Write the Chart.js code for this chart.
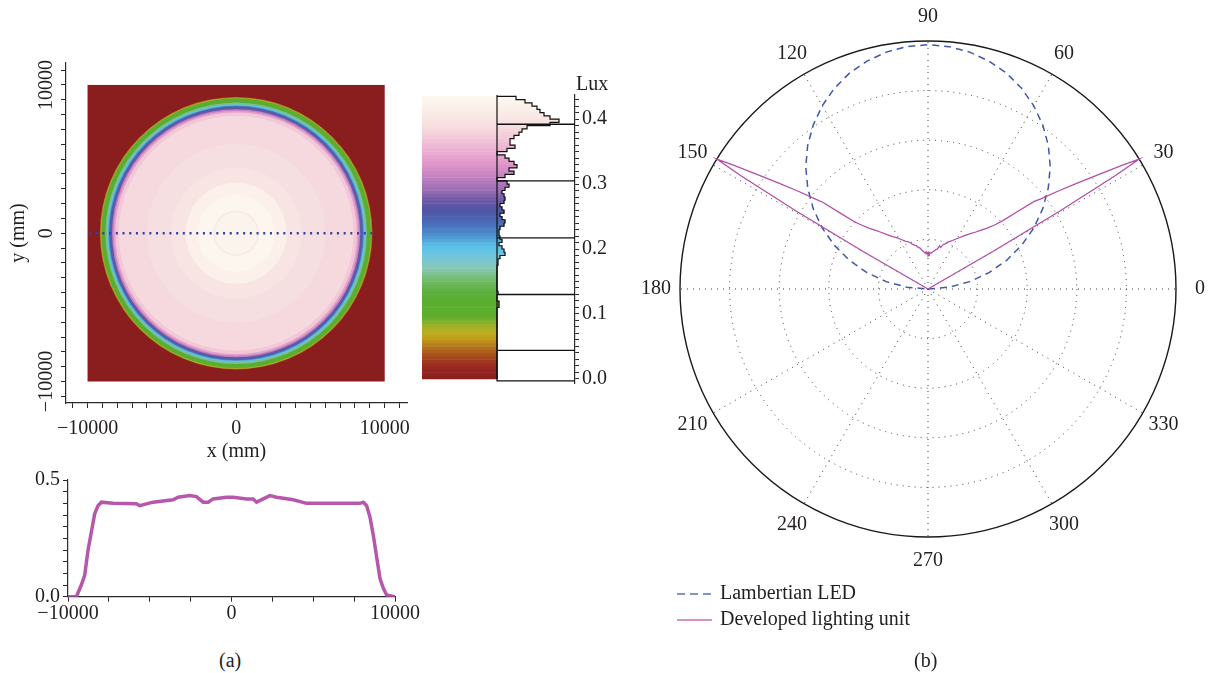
<!DOCTYPE html>
<html>
<head>
<meta charset="utf-8">
<title>Illuminance map and intensity pattern</title>
<script src="https://cdn.jsdelivr.net/npm/chart.js@4.4.1/dist/chart.umd.min.js"></script>
<style>
  html, body { margin: 0; padding: 0; background: #fff; }
  body { position: relative; width: 1214px; height: 673px; overflow: hidden;
         font-family: "Liberation Serif", "DejaVu Serif", serif; color: #231f20; }
  canvas { position: absolute; }
  .txt { position: absolute; font-size: 20px; line-height: 1; white-space: nowrap; }
</style>
</head>
<body>
<canvas id="heatmap" width="420" height="420" style="left:0;top:50px"></canvas>
<canvas id="colorbar" width="200" height="340" style="left:415px;top:60px"></canvas>
<canvas id="profile" width="430" height="165" style="left:0;top:465px"></canvas>
<canvas id="polar" width="574" height="673" style="left:640px;top:0"></canvas>
<div class="txt" style="left:576px;top:73px">Lux</div>
<div class="txt" style="left:219px;top:650px">(a)</div>
<div class="txt" style="left:914px;top:650px">(b)</div>
<script>
// ---------- data ----------
// (a) illuminance map: radial rings (outer radius in mm, lux inside that radius)
const ringRadius = [9170, 9120, 9080, 8930, 8800, 8680, 8600, 8540, 8450, 8350, 8250, 8130, 7900, 6000, 4400, 3400, 2600, 1550, 1400];
const ringLux    = [0.05, 0.08, 0.11, 0.13, 0.16, 0.20, 0.22, 0.25, 0.27, 0.31, 0.34, 0.37, 0.385, 0.392, 0.40, 0.42, 0.43, 0.41, 0.425];
const heatLabelTicks = [-10000, 0, 10000];
const heatTickStep = 1000, heatTickMax = 11000;
const cutLineX = [-9900, 9500];
const cutLineY = [0, 0];

// colour scale (lux -> colour)
const cmapLux   = [0, 0.02, 0.035, 0.05, 0.065, 0.08, 0.095, 0.13, 0.15, 0.17, 0.19, 0.205, 0.22, 0.24, 0.26, 0.275, 0.29, 0.31, 0.33, 0.35, 0.37, 0.39, 0.41, 0.43, 0.44];
const cmapColor = ['#8a1e1e', '#9a2820', '#a64a1e', '#b4781c', '#c4a41a', '#a8b428', '#60ac2c', '#58ae34', '#70b860',
                   '#88c8b4', '#70c4dc', '#58c0e8', '#4c94d0', '#4a6cb8', '#5054a4', '#6e5aa8', '#9a6cb4', '#c080c0',
                   '#e094c8', '#eaaed2', '#f2c8d8', '#f6dee0', '#f9ece6', '#fcf6ee', '#fdf9f3'];

// histogram next to the colour bar: bins of 0.005 lux starting at 0
const binStart = 0, binWidth = 0.005;
const binCount = [0, 0, 0, 0, 0, 0, 0, 0, 0, 0, 0, 0, 0, 0, 0, 0, 0, 0, 0, 0, 0,
                  0, 2, 2, 0, 0, 1, 0, 0, 0, 0, 0, 0, 0, 0, 1, 1, 3, 8, 7,
                  5, 2, 5, 3, 2, 2, 3, 7, 8, 5, 3, 7, 5, 3, 7, 8, 7, 5, 8, 12,
                  10, 0, 8, 17, 12, 20, 17, 12, 8, 0, 10, 18, 13, 13, 17, 22, 25, 30,
                  53, 62, 53, 47, 43, 40, 35, 28, 19];
const markerLux = [0.044, 0.13, 0.217, 0.305, 0.392];
const luxLabelTicks = [0, 0.1, 0.2, 0.3, 0.4];

// profile along the dotted line
const profileX   = [-10000, -9490, -9185, -8980, -8776, -8572, -8368, -8164, -7960, -7245, -5817, -5613, -4796, -3572, -3266, -2551, -2143, -1735, -1429, -1123,
                    -306, 102, 918, 1327, 1531, 1939, 2347, 2755, 3776, 4592, 6225, 7857, 8061, 8265, 8470, 8674, 8878, 9082, 9286, 9490, 10000];
const profileLux = [0, 0, 0.05, 0.092, 0.199, 0.277, 0.355, 0.39, 0.405, 0.40, 0.398, 0.39, 0.405, 0.415, 0.426, 0.433, 0.429, 0.405, 0.405, 0.419,
                    0.426, 0.426, 0.419, 0.419, 0.405, 0.419, 0.433, 0.426, 0.415, 0.40, 0.40, 0.40, 0.405, 0.39, 0.341, 0.263, 0.17, 0.078, 0.036, 0.007, 0];
const profileXLabels = [-10000, 0, 10000];
const profileYLabels = [0, 0.5];

// (b) polar intensity
const angleTicks = [0, 30, 60, 90, 120, 150, 180, 210, 240, 270, 300, 330];
const gridRadii = [0.2, 0.4, 0.6, 0.8];
const lambAngle  = [0, 5, 10, 15, 20, 25, 30, 35, 40, 45, 50, 55, 60, 65, 70, 75, 80, 85, 90,
                    95, 100, 105, 110, 115, 120, 125, 130, 135, 140, 145, 150, 155, 160, 165, 170, 175, 180];
const lambRadius = [0, 0.086, 0.171, 0.255, 0.337, 0.416, 0.493, 0.565, 0.633, 0.697, 0.755, 0.807, 0.853, 0.893, 0.926, 0.951, 0.970, 0.981, 0.985,
                    0.981, 0.970, 0.951, 0.926, 0.893, 0.853, 0.807, 0.755, 0.697, 0.633, 0.565, 0.493, 0.416, 0.337, 0.255, 0.171, 0.086, 0];
const devAngle  = [0, 29.5, 30.0, 30.6, 31.2, 31.6, 32.5, 34, 35.5, 37, 38.5, 39.5, 41, 42.5, 44, 46, 48, 50, 53, 56, 59, 62, 65, 67, 69, 71, 73, 75, 77, 79,
                   81, 83, 85, 87, 88, 89, 90, 91, 92, 93, 95, 97, 99, 101, 103, 105, 107, 109, 111, 113, 115, 118, 121, 124, 127, 130, 132, 134, 136,
                   137.5, 139, 140.5, 141.5, 143, 144.5, 146, 147.5, 148.4, 148.8, 149.4, 150.0, 150.5, 180];
const devRadius = [0, 0, 0.30, 0.62, 0.88, 1.00, 0.93, 0.82, 0.73, 0.655, 0.585, 0.555, 0.47, 0.405, 0.37, 0.34, 0.32, 0.30, 0.278, 0.258, 0.24, 0.225, 0.212, 0.205, 0.195, 0.19, 0.175, 0.18, 0.165, 0.162,
                   0.155, 0.15, 0.145, 0.148, 0.142, 0.147, 0.14, 0.146, 0.142, 0.15, 0.146, 0.152, 0.158, 0.168, 0.172, 0.18, 0.185, 0.19, 0.2, 0.208, 0.212, 0.225, 0.24, 0.255, 0.275, 0.30, 0.32, 0.34, 0.37,
                   0.40, 0.46, 0.55, 0.585, 0.655, 0.73, 0.82, 0.93, 1.00, 0.88, 0.62, 0.30, 0, 0];

// ---------- helpers ----------
const FONT = { family: '"Liberation Serif", "DejaVu Serif", serif', size: 20 };
const INK = '#231f20';
const AXIS = '#2b2b2b';

function hexRgb(h) { return [1, 3, 5].map(i => parseInt(h.slice(i, i + 2), 16)); }
function colorAt(v) {
  if (v <= cmapLux[0]) return cmapColor[0];
  for (let i = 1; i < cmapLux.length; i++) {
    if (v <= cmapLux[i]) {
      const t = (v - cmapLux[i - 1]) / (cmapLux[i] - cmapLux[i - 1]);
      const a = hexRgb(cmapColor[i - 1]), b = hexRgb(cmapColor[i]);
      return 'rgb(' + a.map((c, k) => Math.round(c + (b[k] - c) * t)).join(',') + ')';
    }
  }
  return cmapColor[cmapColor.length - 1];
}
function signed(v) { return v < 0 ? '\u2212' + Math.abs(v) : String(v); }
function near(list, v) { return list.some(t => Math.abs(t - v) < 1e-6); }

Chart.defaults.font.family = FONT.family;
Chart.defaults.color = INK;

// ---------- (a) heat map ----------
const heatTicks = [];
for (let v = -heatTickMax; v <= heatTickMax; v += heatTickStep) heatTicks.push(v);
const setHeatTicks = s => { s.ticks = heatTicks.map(v => ({ value: v })); };

const heatPlugin = {
  id: 'heat',
  beforeDatasetsDraw(chart) {
    const { ctx, scales: { x, y } } = chart;
    const x0 = x.getPixelForValue(-10000), x1 = x.getPixelForValue(10000);
    const y0 = y.getPixelForValue(10000), y1 = y.getPixelForValue(-10000);
    const cx = x.getPixelForValue(0), cy = y.getPixelForValue(0);
    ctx.save();
    ctx.fillStyle = colorAt(0);
    ctx.fillRect(x0, y0, x1 - x0, y1 - y0);
    ringRadius.forEach((r, i) => {
      ctx.beginPath();
      ctx.arc(cx, cy, x.getPixelForValue(r) - cx, 0, Math.PI * 2);
      ctx.fillStyle = colorAt(ringLux[i]);
      ctx.fill();
    });
    ctx.restore();
  }
};

new Chart(document.getElementById('heatmap'), {
  type: 'scatter',
  data: {
    datasets: [{
      data: cutLineX.map((v, i) => ({ x: v, y: cutLineY[i] })),
      showLine: true, borderColor: '#3040a0', borderWidth: 2.5, borderDash: [2, 4.7], pointRadius: 0
    }]
  },
  options: {
    responsive: false, animation: false,
    layout: { padding: { top: 13, right: 13 } },
    plugins: { legend: { display: false }, tooltip: { enabled: false } },
    scales: {
      x: {
        type: 'linear', min: -11450, max: 11500,
        afterBuildTicks: setHeatTicks,
        afterFit: s => { s.height = 67; },
        border: { color: AXIS, width: 1.2 },
        grid: { drawOnChartArea: false, tickLength: 5, color: AXIS },
        ticks: { autoSkip: false, maxRotation: 0, padding: 9, font: FONT, color: INK,
                 callback: v => near(heatLabelTicks, v) ? signed(v) : '' },
        title: { display: true, text: 'x (mm)', font: FONT, color: INK, padding: { top: 0, bottom: 6 } }
      },
      y: {
        type: 'linear', min: -11450, max: 11480,
        afterBuildTicks: setHeatTicks,
        afterFit: s => { s.width = 66; },
        border: { color: AXIS, width: 1.2 },
        grid: { drawOnChartArea: false, tickLength: 5, color: AXIS },
        ticks: { autoSkip: false, minRotation: 90, maxRotation: 90, crossAlign: 'center',
                 padding: -16, font: FONT, color: INK,
                 callback: v => near(heatLabelTicks, v) ? signed(v) : '' },
        title: { display: true, text: 'y (mm)', font: FONT, color: INK, padding: { top: 7, bottom: 0 } }
      }
    }
  },
  plugins: [heatPlugin]
});

// ---------- (a) colour bar + histogram ----------
const binCenter = binCount.map((c, i) => binStart + binWidth * (i + 0.5));
const binEdge = binCount.map((c, i) => binStart + binWidth * i);
const binTop = binStart + binWidth * binCount.length;
const binColors = binCenter.map(colorAt);

const outline = binCount.map((c, i) => ({ x: c, y: binEdge[i] }));
outline.push({ x: binCount[binCount.length - 1], y: binTop });
outline.push({ x: 0, y: binTop });

const histFrame = {
  id: 'histFrame',
  afterDatasetsDraw(chart) {
    const { ctx, scales: { x, y } } = chart;
    ctx.save();
    ctx.strokeStyle = '#111';
    ctx.lineWidth = 1.2;
    ctx.beginPath();
    ctx.moveTo(x.getPixelForValue(0), y.getPixelForValue(binTop + 0.002));
    ctx.lineTo(x.getPixelForValue(0), y.getPixelForValue(-0.003));
    ctx.lineTo(x.getPixelForValue(78), y.getPixelForValue(-0.003));
    ctx.stroke();
    ctx.restore();
  }
};

new Chart(document.getElementById('colorbar'), {
  type: 'bar',
  data: {
    datasets: [
      ...markerLux.map(v => ({
        type: 'line', indexAxis: 'y', order: 0,
        data: [{ x: 0, y: v }, { x: 78, y: v }],
        borderColor: '#111', borderWidth: 1.3, pointRadius: 0
      })),
      {
        type: 'line', indexAxis: 'y', order: 0,
        data: outline, stepped: 'after',
        borderColor: '#111', borderWidth: 1.2, pointRadius: 0
      },
      {
        indexAxis: 'y', order: 2, grouped: false,
        data: binCenter.map(c => ({ y: c, x: [-75, 0] })),
        backgroundColor: binColors, barPercentage: 1, categoryPercentage: 1
      },
      {
        indexAxis: 'y', order: 1, grouped: false,
        data: binCenter.map((c, i) => ({ y: c, x: binCount[i] })),
        backgroundColor: binColors, barPercentage: 1, categoryPercentage: 1
      }
    ]
  },
  options: {
    indexAxis: 'y',
    responsive: false, animation: false,
    layout: { padding: { left: 7, top: 35, bottom: 17 } },
    plugins: { legend: { display: false }, tooltip: { enabled: false } },
    scales: {
      x: { type: 'linear', min: -75, max: 78, display: false },
      y: {
        type: 'linear', position: 'right', min: -0.0062, max: 0.437,
        offset: false,
        afterFit: s => { s.width = 40; },
        border: { color: AXIS, width: 1.2 },
        grid: { offset: false, drawOnChartArea: false, tickLength: 4, color: AXIS },
        ticks: { stepSize: 0.01, includeBounds: false, autoSkip: false, padding: 3, font: FONT, color: INK,
                 callback: v => near(luxLabelTicks, v) ? v.toFixed(1) : '' }
      }
    }
  },
  plugins: [histFrame]
});

// ---------- (a) profile ----------
new Chart(document.getElementById('profile'), {
  type: 'scatter',
  data: {
    datasets: [{
      data: profileX.map((v, i) => ({ x: v, y: profileLux[i] })),
      showLine: true, borderColor: '#b657ac', borderWidth: 3.5, pointRadius: 0
    }]
  },
  options: {
    responsive: false, animation: false,
    layout: { padding: { top: 14.3, right: 35 } },
    plugins: { legend: { display: false }, tooltip: { enabled: false } },
    scales: {
      x: {
        type: 'linear', min: -10000, max: 10000,
        afterFit: s => { s.height = 33.3; },
        border: { color: AXIS, width: 1.2 },
        grid: { drawOnChartArea: false, tickLength: 5, color: AXIS },
        ticks: { stepSize: 2500, autoSkip: false, maxRotation: 0, padding: 0, font: FONT, color: INK,
                 callback: v => near(profileXLabels, v) ? signed(v) : '' }
      },
      y: {
        type: 'linear', min: 0, max: 0.5,
        afterFit: s => { s.width = 68; },
        border: { color: AXIS, width: 1.2 },
        grid: { drawOnChartArea: false, tickLength: 5, color: AXIS },
        ticks: { stepSize: 0.05, autoSkip: false, padding: 3, font: FONT, color: INK,
                 callback: v => near(profileYLabels, v) ? v.toFixed(1) : '' }
      }
    }
  }
});

// ---------- (b) polar plot ----------
const toXY = (angles, radii) => angles.map((a, i) => ({
  x: radii[i] * Math.cos(a * Math.PI / 180),
  y: radii[i] * Math.sin(a * Math.PI / 180)
}));

const polarFrame = {
  id: 'polarFrame',
  beforeDatasetsDraw(chart) {
    const { ctx, scales: { x, y } } = chart;
    const cx = x.getPixelForValue(0), cy = y.getPixelForValue(0);
    const unit = x.getPixelForValue(1) - cx;
    ctx.save();
    ctx.strokeStyle = '#3a3a3a';
    ctx.lineWidth = 1;
    ctx.setLineDash([1, 5]);
    gridRadii.forEach(r => {
      ctx.beginPath();
      ctx.arc(cx, cy, r * unit, 0, Math.PI * 2);
      ctx.stroke();
    });
    angleTicks.forEach(a => {
      const t = a * Math.PI / 180;
      ctx.beginPath();
      ctx.moveTo(cx, cy);
      ctx.lineTo(x.getPixelForValue(Math.cos(t)), y.getPixelForValue(Math.sin(t)));
      ctx.stroke();
    });
    ctx.setLineDash([]);
    ctx.strokeStyle = '#1a1a1a';
    ctx.lineWidth = 1.4;
    ctx.beginPath();
    ctx.arc(cx, cy, unit, 0, Math.PI * 2);
    ctx.stroke();
    ctx.restore();
  },
  afterDraw(chart) {
    const { ctx, scales: { x, y } } = chart;
    ctx.save();
    ctx.font = FONT.size + 'px ' + FONT.family;
    ctx.fillStyle = INK;
    ctx.textAlign = 'center';
    ctx.textBaseline = 'middle';
    angleTicks.forEach(a => {
      const t = a * Math.PI / 180;
      ctx.fillText(String(a), x.getPixelForValue(1.097 * Math.cos(t)), y.getPixelForValue(1.097 * Math.sin(t)));
    });
    // legend
    const items = chart.data.datasets.slice().reverse();
    ctx.textAlign = 'left';
    items.forEach((ds, i) => {
      const yy = 594 + i * 26;
      ctx.strokeStyle = ds.legendColor;
      ctx.lineWidth = 1.6;
      ctx.setLineDash(ds.legendDash || []);
      ctx.beginPath();
      ctx.moveTo(37, yy);
      ctx.lineTo(72, yy);
      ctx.stroke();
      ctx.setLineDash([]);
      ctx.fillText(ds.label, 80, yy);
    });
    ctx.restore();
  }
};

new Chart(document.getElementById('polar'), {
  type: 'scatter',
  data: {
    datasets: [
      {
        label: 'Developed lighting unit',
        data: toXY(devAngle, devRadius),
        showLine: true, borderColor: '#b24fa8', legendColor: '#c46fb8', borderWidth: 1.3, pointRadius: 0
      },
      {
        label: 'Lambertian LED',
        data: toXY(lambAngle, lambRadius),
        showLine: true, borderColor: '#3f58aa', legendColor: '#5a70b8', legendDash: [8, 5], borderWidth: 1.5, borderDash: [7, 5], pointRadius: 0
      }
    ]
  },
  options: {
    responsive: false, animation: false,
    layout: { padding: { left: 15.2, right: 13.2, top: 16.2, bottom: 111.2 } },
    plugins: { legend: { display: false }, tooltip: { enabled: false } },
    scales: {
      x: { type: 'linear', min: -1.1, max: 1.1, display: false },
      y: { type: 'linear', min: -1.1, max: 1.1, display: false }
    }
  },
  plugins: [polarFrame]
});
</script>
</body>
</html>
